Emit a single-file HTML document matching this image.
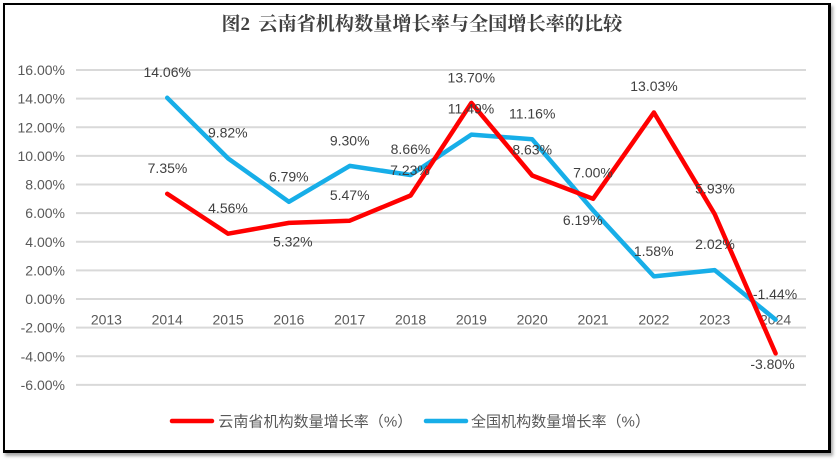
<!DOCTYPE html>
<html><head><meta charset="utf-8"><style>
html,body{margin:0;padding:0;background:#fff;}
body{width:840px;height:461px;overflow:hidden;position:relative;}
.frame{position:absolute;left:3px;top:3px;width:823px;height:445px;border-left:2px solid #000;border-top:2px solid #000;border-right:3px solid #000;border-bottom:3px solid #000;box-shadow:2px 3px 3px rgba(0,0,0,0.35);background:#fff;}
svg{position:absolute;left:0;top:0;}
</style></head><body>
<div class="frame"></div>
<svg width="840" height="461" viewBox="0 0 840 461" xmlns="http://www.w3.org/2000/svg">
<text y="30" fill="#404040" font-family="'Liberation Serif','Noto Serif CJK SC',serif" font-weight="bold" font-size="19"><tspan x="221.5">图2</tspan><tspan x="258.3" textLength="364" lengthAdjust="spacingAndGlyphs">云南省机构数量增长率与全国增长率的比较</tspan></text>
<g stroke="#D9D9D9" stroke-width="2">
<line x1="76" x2="806" y1="70" y2="70"/>
<line x1="76" x2="806" y1="98.6" y2="98.6"/>
<line x1="76" x2="806" y1="127.3" y2="127.3"/>
<line x1="76" x2="806" y1="155.9" y2="155.9"/>
<line x1="76" x2="806" y1="184.5" y2="184.5"/>
<line x1="76" x2="806" y1="213.1" y2="213.1"/>
<line x1="76" x2="806" y1="241.8" y2="241.8"/>
<line x1="76" x2="806" y1="270.4" y2="270.4"/>
<line x1="76" x2="806" y1="299" y2="299"/>
<line x1="76" x2="806" y1="327.6" y2="327.6"/>
<line x1="76" x2="806" y1="356.3" y2="356.3"/>
<line x1="76" x2="806" y1="384.9" y2="384.9"/>
</g>
<g fill="#595959" font-family="'Liberation Sans',sans-serif" font-size="14" text-anchor="end">
<text x="65" y="75">16.00%</text>
<text x="65" y="103.6">14.00%</text>
<text x="65" y="132.3">12.00%</text>
<text x="65" y="160.9">10.00%</text>
<text x="65" y="189.5">8.00%</text>
<text x="65" y="218.1">6.00%</text>
<text x="65" y="246.8">4.00%</text>
<text x="65" y="275.4">2.00%</text>
<text x="65" y="304">0.00%</text>
<text x="65" y="332.6">-2.00%</text>
<text x="65" y="361.3">-4.00%</text>
<text x="65" y="389.9">-6.00%</text>
</g>
<g fill="#595959" font-family="'Liberation Sans',sans-serif" font-size="14" text-anchor="middle">
<text x="106.4" y="324.3">2013</text>
<text x="167.2" y="324.3">2014</text>
<text x="228.1" y="324.3">2015</text>
<text x="288.9" y="324.3">2016</text>
<text x="349.7" y="324.3">2017</text>
<text x="410.6" y="324.3">2018</text>
<text x="471.4" y="324.3">2019</text>
<text x="532.2" y="324.3">2020</text>
<text x="593.1" y="324.3">2021</text>
<text x="653.9" y="324.3">2022</text>
<text x="714.7" y="324.3">2023</text>
<text x="775.6" y="324.3">2024</text>
</g>
<polyline fill="none" stroke="#17AEE8" stroke-width="4.5" stroke-linejoin="round" stroke-linecap="round"
points="167.2,97.8 228.1,158.4 288.9,201.8 349.7,165.9 410.6,175 471.4,134.6 532.2,139.3 593.1,210.4 653.9,276.4 714.7,270.1 775.6,319.6"/>
<polyline fill="none" stroke="#FF0000" stroke-width="4.5" stroke-linejoin="round" stroke-linecap="round"
points="167.2,193.8 228.1,233.7 288.9,222.9 349.7,220.7 410.6,195.5 471.4,102.9 532.2,175.5 593.1,198.8 653.9,112.5 714.7,214.1 775.6,353.4"/>
<g fill="#404040" font-family="'Liberation Sans',sans-serif" font-size="14" text-anchor="middle">
<text x="167.5" y="173">7.35%</text>
<text x="228" y="213">4.56%</text>
<text x="292.8" y="246.7">5.32%</text>
<text x="349.7" y="200">5.47%</text>
<text x="410" y="175">7.23%</text>
<text x="471.3" y="82.7">13.70%</text>
<text x="532.2" y="154.3">8.63%</text>
<text x="593" y="177.7">7.00%</text>
<text x="654" y="91">13.03%</text>
<text x="715" y="193.3">5.93%</text>
<text x="772.5" y="369">-3.80%</text>
<text x="167.2" y="77">14.06%</text>
<text x="227.8" y="137.7">9.82%</text>
<text x="288.8" y="181.7">6.79%</text>
<text x="349.7" y="145.7">9.30%</text>
<text x="410.5" y="154">8.66%</text>
<text x="471" y="113.3">11.49%</text>
<text x="532.2" y="118.3">11.16%</text>
<text x="582.7" y="225">6.19%</text>
<text x="653.7" y="256">1.58%</text>
<text x="715" y="249">2.02%</text>
<text x="775" y="299">-1.44%</text>
</g>
<line x1="172" y1="421" x2="212" y2="421" stroke="#FF0000" stroke-width="4.5" stroke-linecap="round"/>
<line x1="426" y1="421" x2="466" y2="421" stroke="#17AEE8" stroke-width="4.5" stroke-linecap="round"/>
<g fill="#595959" font-family="'Liberation Sans','Noto Sans CJK SC',sans-serif" font-size="15">
<text x="218.3" y="426.5" textLength="194" lengthAdjust="spacingAndGlyphs">云南省机构数量增长率（%）</text>
<text x="471" y="426.5" textLength="179" lengthAdjust="spacingAndGlyphs">全国机构数量增长率（%）</text>
</g>
</svg>
</body></html>
